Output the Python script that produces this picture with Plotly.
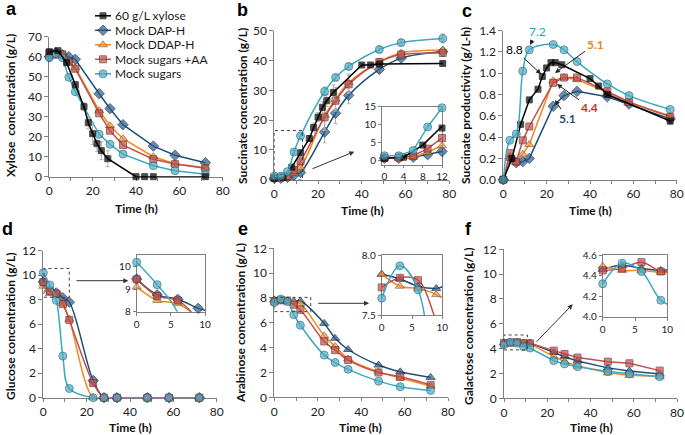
import plotly.graph_objects as go

W, H = 685, 435

# ---------------- data ----------------
T = [0, 3, 6, 9, 12, 23, 28, 34, 48, 58, 72]
T_SUCC = [0, 3, 6, 9, 12, 23, 28, 34, 48, 58, 77]
T_BLACK = [0, 4, 8, 12, 16, 18, 20, 22, 24, 27, 40, 44, 48, 72]
T_BLACK_SUCC = [0, 4, 8, 12, 16, 18, 20, 22, 24, 27, 40, 44, 48, 77]

SERIES = ["60 g/L xylose", "Mock DAP-H", "Mock DDAP-H", "Mock sugars +AA", "Mock sugars"]

# (a) xylose g/L
xyl_black = [62.5, 63, 57, 46, 35, 27, 21.5, 16.5, 13, 9, 0, 0, 0, 0]
xyl_black_err = [0, 0, 0, 0, 2, 3, 5.5, 4, 4.5, 4, 0, 0, 0, 0]
xyl_dap = [60, 62, 61, 60, 58.7, 41.5, 34, 26, 15.3, 10.7, 7]
xyl_ddap = [61, 61, 61, 58, 54.5, 33, 25.5, 19, 10, 6.5, 4.5]
xyl_aa = [61.7, 61, 61.2, 57.5, 54, 31.7, 23, 15.8, 8.7, 6.3, 4.2]
xyl_mock = [59.5, 61.5, 59.5, 49.7, 42.5, 21.2, 16.2, 11.3, 5.5, 3, 1.2]

# (b) succinate g/L
succ_black = [0.5, 0.8, 4.2, 9, 13.8, 17.5, 21, 24.3, 26.5, 29.3, 38.5, 38.5, 38.8, 39]
succ_black_err = [0, 0, 0, 1, 1, 1.5, 1.5, 2, 2, 2.5, 0.5, 0.5, 0.5, 0.5]
succ_dap = [0.5, 0.5, 0.8, 1.5, 2.4, 16, 22.3, 28.3, 37, 40.8, 43]
succ_dap_err = [0, 0, 0, 0, 0.5, 3.6, 3.5, 2.8, 1, 0.5, 0.5]
succ_ddap = [0.5, 0.5, 0.8, 2.2, 4.0, 21.5, 27, 32.5, 39.5, 42.5, 43.5]
succ_ddap_err = [0, 0, 0, 0, 0.5, 4.5, 4, 3, 1, 0.8, 0.8]
succ_aa = [0.6, 0.7, 1.2, 3.2, 6.2, 21, 26.5, 32, 39.5, 42, 42.5]
succ_aa_err = [0, 0, 0, 0, 0.5, 4.5, 3, 3, 1, 1, 1]
succ_mock = [1.2, 1.2, 2.7, 9.3, 14.7, 29.6, 34.3, 38, 43.7, 46, 47.4]
succ_mock_err = [0, 0, 0, 0.5, 1, 1.5, 1, 1, 1, 1, 1.5]

# (c) succinate productivity g/L-h
prod_black = [0, 0.2, 0.52, 0.75, 0.85, 0.97, 1.05, 1.1, 1.1, 1.08, 0.95, 0.88, 0.8, 0.55]
prod_dap = [0, 0.2, 0.16, 0.17, 0.2, 0.69, 0.79, 0.83, 0.78, 0.71, 0.57]
prod_ddap = [0, 0.22, 0.16, 0.24, 0.33, 0.93, 0.96, 0.94, 0.82, 0.72, 0.6]
prod_aa = [0, 0.25, 0.17, 0.37, 0.5, 0.91, 0.96, 0.96, 0.83, 0.73, 0.59]
prod_mock = [0, 0.37, 0.43, 1.02, 1.22, 1.27, 1.22, 1.11, 0.9, 0.79, 0.66]
prod_labels = ["7.2", "8.8", "5.1", "4.4", "5.1"]

# (d) glucose g/L
glu_dap = [9.45, 8.75, 8.55, 8.15, 7.8, 1.4, 0, 0, 0, 0, 0]
glu_ddap = [9.1, 8.5, 8.36, 7.7, 6.4, 0, 0, 0, 0, 0, 0]
glu_aa = [9.44, 8.7, 8.5, 7.65, 6.35, 1.2, 0, 0, 0, 0, 0]
glu_mock = [10.2, 9.2, 7.95, 3.4, 0.75, 0, 0, 0, 0, 0, 0]

# (e) arabinose g/L
ara_dap = [7.84, 7.8, 7.74, 7.72, 7.75, 5.95, 4.75, 3.85, 2.6, 2.05, 1.6]
ara_ddap = [7.84, 7.74, 7.72, 7.67, 7.55, 4.95, 4.1, 3.1, 2.05, 1.55, 0.9]
ara_aa = [7.73, 7.81, 7.79, 7.45, 7.05, 4.5, 3.8, 3.0, 2.0, 1.65, 1.0]
ara_mock = [7.64, 7.91, 7.71, 6.65, 5.8, 3.4, 2.8, 2.25, 1.3, 0.85, 0.55]

# (f) galactose g/L
gal_dap = [4.46, 4.5, 4.47, 4.45, 4.45, 3.7, 3.35, 3.0, 2.45, 2.2, 1.95]
gal_ddap = [4.49, 4.45, 4.45, 4.43, 4.4, 3.35, 2.95, 2.6, 2.05, 1.85, 1.75]
gal_aa = [4.45, 4.47, 4.53, 4.44, 4.43, 3.84, 3.57, 3.28, 2.95, 2.82, 2.23]
gal_mock = [4.32, 4.52, 4.44, 4.16, 4.05, 3.03, 2.77, 2.55, 2.15, 1.96, 1.74]

# ---------------- styles ----------------
STY = {
    "60 g/L xylose": dict(line="#000000", fill="#000000", edge="#000000", sym="square", size=6),
    "Mock DAP-H": dict(line="#1F4E79", fill="#2A5B8C", edge="#10273F", sym="diamond", size=8),
    "Mock DDAP-H": dict(line="#F28A1E", fill="#F79646", edge="#8A5A2B", sym="triangle-up", size=8),
    "Mock sugars +AA": dict(line="#C0504D", fill="#C0504D", edge="#6E2E2C", sym="square", size=7),
    "Mock sugars": dict(line="#3CA9C4", fill="#4BACC6", edge="#2B6676", sym="circle", size=8),
}
FONT = "Lato, 'Open Sans', sans-serif"
AXC = "#7F7F7F"

# axis layout: key -> (n, x px0, x px1, y px bottom, y px top, xrange, yrange)
PANELS = {
    "a": (1, 49.3, 222.7, 176.7, 36.7, [0, 80], [0, 70]),
    "b": (2, 274.3, 449.3, 179.7, 30.7, [0, 80], [0, 50]),
    "c": (3, 503.3, 676.7, 179.7, 30.7, [0, 80], [0, 1.4]),
    "d": (4, 43.3, 216.7, 397.7, 250.7, [0, 80], [0, 12]),
    "e": (5, 274.3, 448.0, 397.3, 248.3, [0, 80], [0, 12]),
    "f": (6, 504.0, 677.0, 398.3, 249.3, [0, 80], [0, 12]),
    "ib": (7, 382.0, 442.0, 165.0, 106.7, [-0.5, 12], [-1.4, 15]),
    "id": (8, 136.7, 205.0, 311.7, 255.0, [0, 10], [8, 10.52]),
    "ie": (9, 381.7, 442.3, 315.0, 255.0, [0, 10], [7.5, 8.0]),
    "if": (10, 602.7, 667.3, 316.7, 255.0, [0, 10], [4.0, 4.6]),
    "lg": (11, 88.0, 240.0, 85.0, 5.0, [88.0, 240.0], [85.0, 5.0]),
}


def ids(key):
    n = PANELS[key][0]
    s = "" if n == 1 else str(n)
    return "x" + s, "y" + s, "xaxis" + s, "yaxis" + s


def px2data(key, px, py):
    n, x0, x1, yb, yt, xr, yr = PANELS[key]
    xv = xr[0] + (px - x0) / (x1 - x0) * (xr[1] - xr[0])
    yv = yr[0] + (yb - py) / (yb - yt) * (yr[1] - yr[0])
    return xv, yv


fig = go.Figure()


def add(key, name, t, y, shape="linear", err=None, sym=None):
    st = STY[name]
    xa, ya, _, _ = ids(key)
    xr, yr = PANELS[key][5], PANELS[key][6]
    inside = [(xr[0] <= a <= xr[1]) and (yr[0] <= b <= yr[1]) for a, b in zip(t, y)]
    sizes = [st["size"] if ok else 0 for ok in inside]
    widths = [1 if ok else 0 for ok in inside]
    tr = go.Scatter(
        x=t, y=y, xaxis=xa, yaxis=ya, mode="lines+markers", name=name, showlegend=False,
        line=dict(color=st["line"], width=1.5, shape=shape, smoothing=1),
        marker=dict(symbol=sym or st["sym"], size=sizes, color=st["fill"],
                    line=dict(color=st["edge"], width=widths)),
        cliponaxis=False, hoverinfo="skip",
    )
    if err is not None:
        tr.error_y = dict(type="data", array=err, visible=True, color="#B0B0B0", thickness=1, width=2)
    fig.add_trace(tr)


# (a)
add("a", "Mock DAP-H", T, xyl_dap)
add("a", "Mock DDAP-H", T, xyl_ddap)
add("a", "Mock sugars +AA", T, xyl_aa)
add("a", "Mock sugars", T, xyl_mock)
add("a", "60 g/L xylose", T_BLACK, xyl_black, err=xyl_black_err)
# (b)
add("b", "Mock DAP-H", T_SUCC, succ_dap, "spline", succ_dap_err)
add("b", "Mock DDAP-H", T_SUCC, succ_ddap, "spline", succ_ddap_err)
add("b", "Mock sugars +AA", T_SUCC, succ_aa, "spline", succ_aa_err)
add("b", "60 g/L xylose", T_BLACK_SUCC, succ_black, "linear", succ_black_err)
add("b", "Mock sugars", T_SUCC, succ_mock, "spline", succ_mock_err)
# (b) inset
add("ib", "Mock DAP-H", T_SUCC, succ_dap)
add("ib", "Mock DDAP-H", T_SUCC, succ_ddap)
add("ib", "Mock sugars +AA", T_SUCC, succ_aa)
add("ib", "60 g/L xylose", T_BLACK_SUCC, succ_black)
add("ib", "Mock sugars", T_SUCC, succ_mock)
# (c)
add("c", "Mock DAP-H", T_SUCC, prod_dap)
add("c", "Mock DDAP-H", T_SUCC, prod_ddap)
add("c", "Mock sugars +AA", T_SUCC, prod_aa)
add("c", "60 g/L xylose", T_BLACK_SUCC, prod_black)
add("c", "Mock sugars", T_SUCC, prod_mock, "spline")
# (d)
for k in ("d", "id"):
    add(k, "Mock DAP-H", T, glu_dap, "spline")
    add(k, "Mock DDAP-H", T, glu_ddap, "spline")
    add(k, "Mock sugars +AA", T, glu_aa, "spline")
    add(k, "Mock sugars", T, glu_mock, "spline")
# (e)
for k in ("e", "ie"):
    add(k, "Mock DAP-H", T, ara_dap, "spline", sym="triangle-up")
    add(k, "Mock DDAP-H", T, ara_ddap, "spline")
    add(k, "Mock sugars +AA", T, ara_aa, "spline")
    add(k, "Mock sugars", T, ara_mock, "spline")
# (f)
add("f", "Mock DAP-H", T, gal_dap, sym="triangle-up")
add("f", "Mock DDAP-H", T, gal_ddap)
add("f", "Mock sugars +AA", T, gal_aa)
add("f", "Mock sugars", T, gal_mock)
add("if", "Mock DAP-H", T, gal_dap, "spline", sym="triangle-up")
add("if", "Mock DDAP-H", T, gal_ddap, "spline")
add("if", "Mock sugars +AA", T, gal_aa, "spline")
add("if", "Mock sugars", T, gal_mock, "spline")

# ---------------- custom compact legend (panel a) ----------------
LEG_TOP, LEG_GAP = 15.8, 14.5
LEG_X0, LEG_X1, LEG_TX = 95.0, 111.0, 113.0
annotations = []
xa_l, ya_l, _, _ = ids("lg")
for i, name in enumerate(SERIES):
    st = STY[name]
    yy = LEG_TOP + i * LEG_GAP
    fig.add_trace(go.Scatter(
        x=[LEG_X0, (LEG_X0 + LEG_X1) / 2, LEG_X1], y=[yy] * 3, xaxis=xa_l, yaxis=ya_l,
        mode="lines+markers", showlegend=False, hoverinfo="skip", cliponaxis=False,
        line=dict(color=st["line"], width=1.5),
        marker=dict(symbol=st["sym"], size=[0, st["size"], 0], color=st["fill"],
                    line=dict(color=st["edge"], width=[0, 1, 0])),
    ))
    annotations.append(dict(xref=xa_l, yref=ya_l, x=LEG_TX, y=yy, text=name, showarrow=False,
                            xanchor="left", yanchor="middle",
                            font=dict(family=FONT, size=12, color="#1a1a1a")))

# ---------------- axes ----------------
layout_axes = {}
for key, (n, x0, x1, yb, yt, xr, yr) in PANELS.items():
    xa, ya, xk, yk = ids(key)
    inset = key.startswith("i")
    hidden = key == "lg"
    base = dict(showgrid=False, zeroline=False, showline=not hidden, linecolor=AXC, linewidth=1,
                ticks="" if hidden else "outside", ticklen=3 if inset else 4, tickwidth=1,
                tickcolor=AXC, mirror=inset, layer="below traces", fixedrange=True,
                showticklabels=not hidden, automargin=False,
                tickfont=dict(family=FONT, size=10 if inset else 12, color="#222"))
    xaxd = dict(base, domain=[x0 / W, x1 / W], range=xr, anchor=ya)
    yaxd = dict(base, domain=[1 - yb / H, 1 - yt / H], range=yr, anchor=xa)
    if key in "abcdef":
        xaxd.update(tickmode="linear", tick0=0, dtick=20, ticklen=3,
                    minor=dict(tickmode="linear", tick0=0, dtick=10, ticks="outside",
                               ticklen=3, tickcolor=AXC, showgrid=False))
        if key in ("a", "b"):
            yaxd.update(tickmode="linear", tick0=0, dtick=10)
        elif key == "c":
            yaxd.update(tickmode="linear", tick0=0, dtick=0.2, tickformat=".1f")
        else:
            yaxd.update(tickmode="linear", tick0=0, dtick=2)
    elif key == "ib":
        xaxd.update(tickvals=[0, 4, 8, 12], ticklen=2)
        yaxd.update(tickvals=[0, 5, 10, 15])
    elif key == "id":
        xaxd.update(tickvals=[0, 5, 10])
        yaxd.update(tickvals=[8, 9, 10])
    elif key == "ie":
        xaxd.update(tickvals=[0, 5, 10])
        yaxd.update(tickvals=[7.5, 8.0], tickformat=".1f")
    elif key == "if":
        xaxd.update(tickvals=[0, 5, 10])
        yaxd.update(tickvals=[4.0, 4.2, 4.4, 4.6], tickformat=".1f")
    elif hidden:
        xaxd.update(visible=False)
        yaxd.update(visible=False)
    layout_axes[xk] = xaxd
    layout_axes[yk] = yaxd


def paper(px, py):
    return px / W, 1 - py / H


def ptext(px, py, text, size, family=FONT, angle=0, color="#111"):
    x, y = paper(px, py)
    return dict(xref="paper", yref="paper", x=x, y=y, text=text, textangle=angle,
                xanchor="center", yanchor="middle", showarrow=False,
                font=dict(family=family, size=size, color=color))


# panel letters
for lab, (px, py) in {"a": (11, 9), "b": (242, 10), "c": (467, 11),
                      "d": (8, 229), "e": (243, 229), "f": (468, 229)}.items():
    annotations.append(ptext(px, py, "<b>%s</b>" % lab, 18, "Liberation Sans, Arial", color="#000"))

# axis titles
ytitles = [("Xylose\u00a0 concentration (g/L)", 11, 106), ("Succinate concentration (g/L)", 243, 106),
           ("Succinate productivity (g/L-h)", 466, 106), ("Glucose concentration (g/L)", 10, 326),
           ("Arabinose concentration (g/L)", 240, 323), ("Galactose concentration (g/L)", 468, 326)]
for txt, px, py in ytitles:
    annotations.append(ptext(px, py, "<b>%s</b>" % txt, 12, angle=-90))
for px, py in [(136, 208), (362, 210), (590, 210), (130, 427), (361, 427), (591, 427)]:
    annotations.append(ptext(px, py, "<b>Time (h)</b>", 12))

# panel c callouts: (label, color, bold, tip px, text px)
callouts = [
    (prod_labels[0], "#31A0B8", False, (530, 45), (537, 31)),
    (prod_labels[1], "#000000", False, (541, 74), (514, 49)),
    (prod_labels[2], "#F08519", True, (555, 73), (595, 44)),
    (prod_labels[3], "#C0392B", True, (557, 84), (589, 107)),
    (prod_labels[4], "#1F4E79", True, (555, 100), (567, 118)),
]
xc, yc, _, _ = ids("c")
for txt, col, bold, tip, tpos in callouts:
    tx, ty = px2data("c", *tip)
    annotations.append(dict(xref=xc, yref=yc, x=tx, y=ty, ax=tpos[0] - tip[0], ay=tpos[1] - tip[1],
                            text=("<b>%s</b>" % txt) if bold else txt, showarrow=True,
                            arrowhead=2, arrowsize=1, arrowwidth=1, arrowcolor="#222",
                            font=dict(family=FONT, size=12, color=col)))

# zoom boxes & arrows to insets
shapes = []
zoom_boxes = {"b": (0, 12.9, 0, 16.5), "d": (0.3, 12, 8.2, 10.55),
              "e": (0, 16.8, 6.9, 8.05), "f": (0, 10.8, 3.9, 5.1)}
for key, (bx0, bx1, by0, by1) in zoom_boxes.items():
    xa, ya, _, _ = ids(key)
    shapes.append(dict(type="rect", xref=xa, yref=ya, x0=bx0, x1=bx1, y0=by0, y1=by1,
                       line=dict(color="#404040", width=1, dash="dot")))
zoom_arrows = {"b": ((311, 169.3), (354.3, 151.7)), "d": ((75, 280.7), (128.3, 280.7)),
               "e": ((316.7, 303.3), (369, 303.3)), "f": ((535, 343.3), (572.7, 304.3))}
for key, (tail, tip) in zoom_arrows.items():
    xa, ya, _, _ = ids(key)
    txv, tyv = px2data(key, *tip)
    axv, ayv = px2data(key, *tail)
    annotations.append(dict(xref=xa, yref=ya, axref=xa, ayref=ya, x=txv, y=tyv, ax=axv, ay=ayv,
                            text="", showarrow=True, arrowhead=2, arrowsize=1, arrowwidth=1,
                            arrowcolor="#333"))

fig.update_layout(
    width=W, height=H, margin=dict(l=0, r=0, t=0, b=0, autoexpand=False),
    paper_bgcolor="white", plot_bgcolor="rgba(0,0,0,0)",
    showlegend=False, annotations=annotations, shapes=shapes,
    font=dict(family=FONT, size=12, color="#222"),
    **layout_axes,
)
fig.write_html("out.html", config={"displayModeBar": False, "staticPlot": True},
               post_script="document.body.style.margin='0';document.body.style.overflow='hidden';")
